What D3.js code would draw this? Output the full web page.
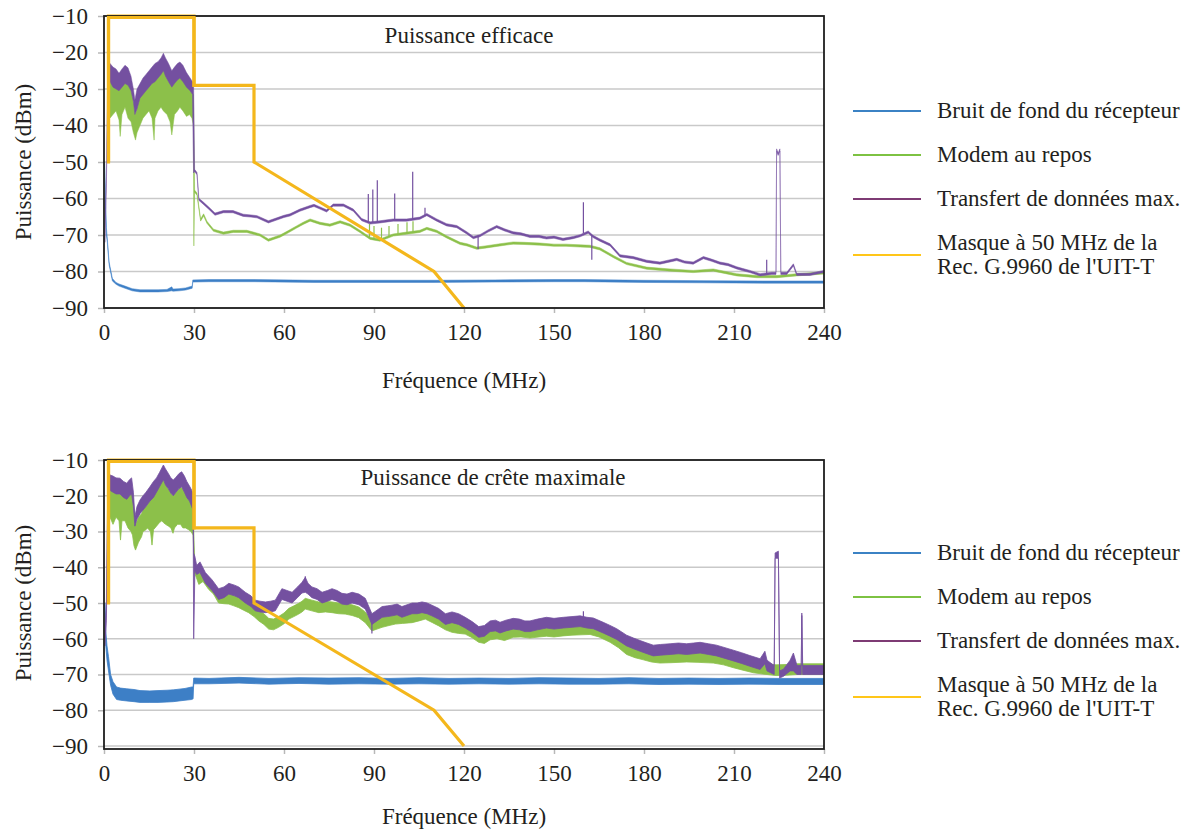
<!DOCTYPE html>
<html><head><meta charset="utf-8">
<script src="https://cdn.jsdelivr.net/npm/d3@7"></script>
<style>
body{margin:0;background:#fff;}
svg text, svg tspan{font-family:"Liberation Serif","Times New Roman",serif !important;font-weight:400 !important;fill:#231f20;}
</style>
</head><body>
<svg id="c" width="1198" height="830" font-family="Liberation Serif"></svg>
<script>
// ---------- DATA ----------
const xTicks = [0, 30, 60, 90, 120, 150, 180, 210, 240];
const yTicks = [-10, -20, -30, -40, -50, -60, -70, -80, -90];
const seriesNames = ["Bruit de fond du récepteur", "Modem au repos", "Transfert de données max.", ["Masque à 50 MHz de la", "Rec. G.9960 de l'UIT-T"]];
const panelTitles = ["Puissance efficace", "Puissance de crête maximale"];
const xTitle = "Fréquence (MHz)";
const yTitle = "Puissance (dBm)";

// ITU-T G.9960 50 MHz mask [MHz, dBm]
const maskData = [[1.5,-50],[1.5,-10],[30,-10],[30,-29],[50,-29],[50,-50],[110,-80],[120,-90]];

// RMS panel: [MHz, low dBm, high dBm]
const rmsNoise = [[0.2,-51,-50],[0.5,-63,-60],[0.8,-70,-68],[1.1,-72,-71],[1.7,-78.2,-77.4],[2.8,-82.6,-81.9],[4,-83.5,-83],[5,-84,-83.4],[7,-84.6,-84],[9.4,-85.3,-84.7],[12,-85.6,-85],[15,-85.6,-85],[18,-85.6,-85],[21,-85.5,-84.9],[22.6,-85.3,-84.2],[23,-85.4,-84.8],[25,-85.3,-84.7],[27.2,-85.1,-84.5],[28.9,-84.7,-84.1],[29.4,-84.6,-84],[29.6,-82.9,-82.3],[35,-82.8,-82.2],[50,-82.8,-82.2],[70,-83,-82.4],[90,-83,-82.4],[110,-83,-82.4],[130,-82.9,-82.3],[150,-82.8,-82.2],[160,-82.8,-82.2],[180,-83,-82.4],[200,-83.1,-82.5],[220,-83.2,-82.6],[240,-83.2,-82.6]];

const rmsIdle = [[1.3,-38,-27],[2,-38,-27.5],[3,-37,-29],[4,-36,-29.5],[5,-38.5,-30],[5.4,-43,-30],[6,-37,-29],[7,-35,-28],[8,-38,-28.5],[9,-39,-30],[9.8,-42,-33],[10.5,-44,-37],[11,-42,-35],[12,-40,-32],[13,-38,-31],[14,-37,-30],[15,-36,-29],[16,-38,-28],[16.7,-44,-28],[17,-38,-27.5],[18,-36,-26.5],[19,-35,-25.5],[19.8,-36,-24.5],[21,-37,-27],[22,-39,-28.5],[22.6,-42.6,-29],[23.5,-37,-28],[24.5,-36,-27],[25.3,-35,-26.5],[26.3,-36,-27.5],[27.5,-37.5,-29],[28.5,-37,-30],[29.3,-38,-31],[29.8,-40,-31.5],[29.95,-73,-40],[30.2,-58.3,-57.7],[31,-59.1,-58.5],[32.2,-66.2,-65.6],[33.2,-64.8,-64.2],[34.3,-66.8,-66.2],[36.5,-69,-68.4],[39.8,-69.8,-69.2],[43.1,-69.3,-68.7],[47.6,-69.3,-68.7],[52,-70.3,-69.7],[54.8,-71.7,-71.1],[58.7,-70.6,-70],[61,-69.6,-69],[64.2,-68.1,-67.5],[66.4,-67.1,-66.5],[68.7,-66.2,-65.6],[72,-67.1,-66.5],[75.3,-67.6,-67],[78.7,-66.7,-66.1],[82,-67.6,-67],[85.3,-69.3,-68.7],[88.7,-71.2,-70.6],[92,-71.7,-71.1],[96.4,-70.3,-69.7],[100.9,-69.8,-69.2],[105.3,-69.3,-68.7],[107.6,-68.5,-67.9],[110.9,-69.3,-68.7],[114.2,-70.8,-70.2],[118.7,-72.6,-72],[121,-73,-72.4],[124.2,-73.9,-73.3],[127,-73.6,-73],[132,-73,-72.4],[136.4,-72.5,-71.9],[140,-72.6,-72],[145.3,-72.8,-72.2],[150,-73.1,-72.5],[154,-73.1,-72.5],[158.7,-73.3,-72.7],[162,-73.4,-72.8],[165.3,-74.1,-73.5],[169.8,-76.2,-75.6],[174.2,-78.1,-77.5],[180.9,-79.4,-78.8],[188.7,-79.9,-79.3],[196.4,-80.3,-79.7],[203.1,-79.9,-79.3],[210.9,-81.2,-80.6],[217.6,-81.7,-81.1],[224.3,-81.7,-81.1],[230.9,-81.2,-80.6],[240,-80.7,-80.1]];

const rmsMax = [[0.3,-72,-70],[0.8,-56,-54],[1.3,-28,-22],[2,-28,-23],[3,-29.5,-24],[4,-30,-24.5],[5,-30.5,-25.7],[6,-29.5,-24.5],[7,-28.5,-23.5],[8,-29,-24.2],[9,-30.5,-26.5],[9.8,-33.5,-30],[10.3,-37,-33],[11,-35.5,-30],[12,-32.5,-28.5],[13,-31.5,-27],[14,-30.5,-26],[15,-29.5,-25],[16,-28.5,-24],[17,-28,-23],[18,-27,-22.5],[19,-26,-21.5],[19.8,-25,-20.2],[20.5,-26.5,-21.5],[21.5,-28,-23],[22.6,-29.5,-25],[23.5,-28.5,-24],[24.5,-27.5,-23],[25.3,-27,-22.6],[26.3,-28,-23.5],[27.5,-29.5,-25.5],[28.7,-30.5,-27],[29.5,-31.5,-28],[29.85,-53,-28],[30.2,-52.6,-52],[31,-53.5,-52.9],[31.6,-60.5,-59.9],[33,-61.5,-60.9],[35,-63,-62.4],[37,-64.6,-64],[39.8,-63.9,-63.3],[43,-63.9,-63.3],[46.4,-64.9,-64.3],[49,-65.1,-64.5],[51,-65.3,-64.7],[54.8,-66.7,-66.1],[57.6,-65.9,-65.3],[60,-65.2,-64.6],[62,-64.8,-64.2],[65.3,-63.5,-62.9],[68.7,-62.5,-61.9],[70,-62.2,-61.6],[72,-62.9,-62.3],[74.2,-63.7,-63.1],[76.4,-62.1,-61.5],[79.8,-62.1,-61.5],[83.1,-63.5,-62.9],[85.9,-66.1,-65.5],[88.7,-67,-66.4],[92,-66.7,-66.1],[96.4,-66.2,-65.6],[100.9,-66.2,-65.6],[105.3,-65.7,-65.1],[107.6,-64.7,-64.1],[110.9,-66.2,-65.6],[114.2,-67.5,-66.9],[117.6,-68,-67.4],[120.9,-69.7,-69.1],[123.1,-71,-70.4],[125.3,-70.5,-69.9],[128,-69.2,-68.6],[130.9,-68,-67.4],[133.5,-68.9,-68.3],[136.4,-69.7,-69.1],[139,-70,-69.4],[142,-70.7,-70.1],[145,-70.7,-70.1],[147.5,-71.1,-70.5],[150,-70.9,-70.3],[153,-71.5,-70.9],[156.4,-71,-70.4],[158.7,-70.5,-69.9],[161.4,-69.5,-68.9],[163,-70.7,-70.1],[165.3,-71.7,-71.1],[168.7,-73,-72.4],[172,-76,-75.4],[176.4,-76.5,-75.9],[180.9,-77.5,-76.9],[185.3,-78,-77.4],[188,-77.5,-76.9],[190.9,-77,-76.4],[193.5,-77.7,-77.1],[196.4,-78,-77.4],[199.8,-76.5,-75.9],[202.5,-77.2,-76.6],[205.3,-78,-77.4],[208,-78.4,-77.8],[210.9,-79.3,-78.7],[213,-79.8,-79.2],[215.3,-80.3,-79.7],[218.7,-81.2,-80.6],[222.6,-80.8,-80.2],[224,-80.8,-80.2],[224.2,-47,-46.4],[224.7,-48.2,-47.6],[225.3,-47,-46.4],[225.6,-80.8,-80.2],[227.6,-80.8,-80.2],[229.8,-78.5,-77.9],[230.9,-81.1,-80.5],[235.3,-81.1,-80.5],[240,-80.3,-79.7]];

// spikes [MHz, base dBm, tip dBm]
const rmsMaxSpikes = [[88.1,-66.5,-58.8],[89.6,-66.5,-57.5],[91.1,-66.3,-55],[96.9,-65.8,-58.6],[102.9,-65.8,-52.7],[107,-64.5,-62.5],[124.7,-70,-73.9],[159.8,-69.5,-61],[162.6,-70,-76.8],[220.9,-80.8,-76.8]];
const rmsIdleSpikes = [[88.5,-70.8,-67],[90,-71,-67.5],[92.5,-71.2,-68],[95,-70.5,-67.5],[98,-69.8,-67],[101,-69.5,-66.5],[103,-69.2,-66.2]];

// Peak panel: [MHz, low dBm, high dBm]
const peakNoise = [[0.3,-52,-50],[0.6,-62,-58],[1,-66,-62],[1.5,-69,-65],[2.2,-73,-70],[3,-75.5,-72],[4.2,-77,-73.5],[5.5,-77.2,-73.8],[7.6,-77.4,-74],[10,-77.6,-74.2],[12,-77.8,-74.5],[15.3,-77.8,-74.6],[18,-77.8,-74.5],[21,-77.7,-74.4],[23.1,-77.6,-74.3],[25,-77.4,-74.1],[27,-77.2,-73.9],[29.2,-77,-73.5],[29.7,-76.8,-73.5],[29.9,-72.6,-71],[35,-72.6,-71.1],[45,-72.4,-70.8],[55,-72.7,-71.1],[65,-72.5,-70.9],[75,-72.7,-71],[85,-72.6,-70.9],[95,-72.7,-71.1],[105,-72.6,-70.9],[115,-72.7,-71.1],[125,-72.6,-71],[135,-72.7,-71.1],[145,-72.6,-70.9],[155,-72.7,-71],[165,-72.7,-71.1],[175,-72.6,-70.9],[185,-72.8,-71.1],[195,-72.7,-71],[205,-72.8,-71.1],[215,-72.7,-71],[225,-72.8,-71.1],[235,-72.8,-71.1],[240,-72.8,-71.1]];

const peakIdle = [[1.3,-27,-18],[2,-26,-18.4],[3,-28,-18.8],[4,-26,-19],[5,-27,-19.5],[5.5,-32.4,-19.5],[6,-27,-20],[7,-27,-20],[8,-29,-20],[9,-30,-19.5],[9.5,-31,-19],[10,-34,-24],[10.5,-35.2,-28.2],[11.5,-33,-26],[12.5,-31.5,-25],[13,-30,-24],[14,-29.5,-23],[14.5,-29,-22.5],[15.5,-30,-21],[16,-33.8,-20.5],[16.5,-29.5,-20],[17.5,-28.5,-18.5],[18.5,-27.5,-17],[19.3,-27,-16],[19.8,-27.5,-15.5],[20.5,-28,-17],[21.5,-28.5,-18.2],[22.3,-29,-19.3],[23,-30.5,-20],[23.5,-29,-19.5],[24.5,-28,-18.5],[25.5,-28,-17.5],[26.3,-29,-18.2],[27.2,-29,-19.5],[28.2,-29.5,-21],[29,-30,-22],[29.7,-31,-23.5],[30.2,-41.5,-38.5],[31.6,-44.8,-41.8],[33,-44,-41],[34.9,-46.2,-43.2],[36.5,-47.5,-44.5],[38.2,-50,-47],[40,-50.2,-47.2],[41.6,-50.3,-47.3],[43.3,-50.8,-47.8],[44.9,-51.3,-48.3],[46.5,-52,-49],[48.2,-52.7,-49.7],[50,-53.8,-50.8],[51.6,-55,-52],[53.3,-56,-53],[54.9,-57.3,-54.3],[56.5,-57.5,-54.5],[58.2,-56.8,-53.8],[60,-55.8,-52.8],[61.6,-54.5,-51.5],[63.3,-53.8,-50.8],[64.9,-53.1,-50.1],[66,-52.5,-49.5],[67.1,-51.7,-48.7],[69.3,-52.2,-49.2],[71.6,-52.7,-49.7],[73.8,-52.5,-49.5],[76,-52.7,-49.7],[78.2,-53,-50],[80.4,-53.1,-50.1],[82.7,-53.5,-50.5],[84.9,-54.1,-51.1],[87.1,-55.5,-52.5],[89.3,-57.8,-54.8],[91,-57.3,-54.3],[92.7,-56.8,-53.8],[95,-56.3,-53.3],[97.1,-55.9,-52.9],[99.5,-55.7,-52.7],[102.7,-55.5,-52.5],[105,-55,-52],[107.1,-54.5,-51.5],[109.5,-55.5,-52.5],[111.6,-56.4,-53.4],[113.8,-57.5,-54.5],[116,-58.2,-55.2],[118.2,-58.5,-55.5],[120.4,-58.7,-55.7],[122.7,-59.7,-56.7],[124.9,-61,-58],[126.8,-61.3,-58.3],[128.7,-60.3,-57.3],[131,-60,-57],[133.5,-60.5,-57.5],[136.4,-59.6,-56.6],[139,-59.5,-56.5],[142,-59.8,-56.8],[145,-59.5,-56.5],[147.5,-59.3,-56.3],[150,-59.5,-56.5],[153,-59.2,-56.2],[156,-59,-56],[159,-58.9,-55.9],[162,-58.8,-55.8],[165,-59.5,-56.5],[168.7,-61,-58],[171.5,-62.5,-59.5],[174.2,-64.4,-61.4],[177,-65.3,-62.3],[179.8,-65.9,-62.9],[182.5,-66.5,-63.5],[185.3,-66.8,-63.8],[189,-66.7,-63.7],[194.2,-66.5,-63.5],[198,-66.6,-63.6],[203.1,-66.8,-63.8],[206.5,-67.3,-64.3],[209.8,-68.1,-65.1],[213,-68.8,-65.8],[216.4,-69.5,-66.5],[219,-69.8,-66.8],[221,-70,-67],[224,-70.3,-67.3],[227.6,-70.2,-67.2],[231,-70,-67],[235,-70,-67],[240,-70,-67]];

const peakMax = [[0.3,-62,-58],[0.8,-55,-50],[1.3,-18,-13.5],[2,-18.5,-14.2],[3,-19,-14.5],[4,-19.5,-15],[5.3,-19.5,-15.1],[6.5,-20.5,-16],[7.6,-21,-16.5],[8.5,-20,-15.5],[9.2,-19.5,-15],[9.8,-23,-19],[10.3,-28.5,-25.8],[11,-26.5,-23],[12,-25,-21.2],[13,-24,-20],[14,-23,-19],[15.3,-21.5,-17.5],[16.5,-20.5,-16],[17.5,-19,-15],[18.5,-17.5,-13.5],[19.8,-15.5,-11.4],[20.5,-17,-12.5],[21.4,-18,-13.7],[22.3,-19.3,-15],[23.1,-20,-15.6],[24,-19,-14.8],[25,-18,-13.8],[25.9,-17.5,-13.3],[26.8,-19,-14.5],[27.6,-20.5,-16],[28.5,-21.5,-17.3],[29.2,-23,-18.4],[29.7,-24,-19.5],[29.9,-60,-36],[30.3,-41,-37],[30.9,-42,-39.5],[32,-41.5,-38.5],[33.8,-44.5,-41.5],[36,-46.5,-43.5],[38.2,-49,-46],[40,-48.5,-45.5],[41.6,-47.5,-44.5],[43.5,-48,-45],[44.9,-48.5,-45.5],[47.1,-50,-47],[49,-51,-48],[50.4,-52.2,-49.2],[52,-52.5,-49.5],[53.8,-52.7,-49.7],[55.5,-52.5,-49.5],[57.1,-52.2,-49.2],[59.3,-49,-46],[61,-49.5,-46.5],[62.7,-50,-47],[64.5,-48.5,-45.5],[66,-47.2,-44.2],[67.1,-47,-42.8],[68,-47.5,-44.5],[69.3,-48.5,-45.5],[71,-49,-46],[72.7,-50,-47],[74.5,-49.5,-46.5],[76,-49,-46],[77.7,-49.5,-46.5],[79.3,-50.3,-47.3],[81,-50.5,-47.5],[82.7,-50,-47],[85,-50.5,-47.5],[87.1,-51.7,-48.7],[89.3,-56,-53],[91,-55,-52],[92.7,-54,-51],[94.5,-53.8,-50.8],[96,-53.6,-50.6],[97.7,-53.3,-50.3],[99.3,-54,-51],[101,-53.5,-50.5],[102.7,-53,-50],[104.4,-53,-50],[106,-52.7,-49.7],[107.7,-53,-50],[109.3,-53.6,-50.6],[111.5,-54.5,-51.5],[113.8,-56,-53],[116,-55.5,-52.5],[118.2,-56,-53],[120.4,-57,-54],[122.7,-58.2,-55.2],[124.9,-59.6,-56.6],[126.8,-59.3,-56.3],[128.7,-58,-55],[130.5,-57.8,-54.8],[132,-58.4,-55.4],[134,-57.8,-54.8],[136.4,-57.3,-54.3],[138.5,-57.5,-54.5],[140.3,-58,-55],[142,-58,-55],[144.5,-57.5,-54.5],[147.5,-57,-54],[150,-57.3,-54.3],[153.1,-57,-54],[156,-56.8,-53.8],[158.7,-56.6,-53.6],[161,-57,-54],[163.1,-57.2,-54.2],[166.4,-58.4,-55.4],[168.5,-59.2,-56.2],[170.9,-60.2,-57.2],[174.2,-62,-59],[176.5,-62.8,-59.8],[178.7,-63.5,-60.5],[181,-64.2,-61.2],[183.1,-64.8,-61.8],[185.5,-64.6,-61.6],[188.7,-64.4,-61.4],[191.5,-64.2,-61.2],[194.2,-64.4,-61.4],[196.5,-64.2,-61.2],[198.7,-64,-61],[201.5,-64.4,-61.4],[204.2,-64.8,-61.8],[207,-65.5,-62.5],[209.8,-66.2,-63.2],[212.5,-66.9,-63.9],[215.3,-67.7,-64.7],[218.7,-68.6,-65.6],[220.3,-67,-63.5],[221,-69,-66],[223.4,-70,-67.5],[223.7,-37.5,-36],[224.8,-37.5,-35.5],[225.2,-71,-69],[226.5,-70.5,-68.5],[228.7,-69,-66],[229.8,-69,-64],[231,-70,-67.5],[232.4,-70,-67.5],[232.6,-53.5,-52.8],[232.9,-70,-67.5],[234.2,-70,-67.5],[237,-70,-67.5],[240,-70,-67.5]];
const peakMaxSpikes = [[67.1,-45,-42.5],[159.8,-54,-52.3],[89.3,-53,-58.5]];
const peakIdleSpikes = [];

// ---------- DRAW ----------
const svg = d3.select("#c");
const colors = {noise:"#3d7fc6", idle:"#8cc04a", max:"#7450a0", mask:"#f4b71c"};
const legendColors = ["#3b82c4", "#7dc242", "#7e3b74", "#ffc619"];
const FS = 23;
const FONT = "Liberation Serif";

const panels = [
  {top:16, bottom:308, frameBottom:308, title:panelTitles[0], titleX:469, titleY:43, xTitleY:388,
   noise:rmsNoise, idle:rmsIdle, max:rmsMax, maxSpikes:rmsMaxSpikes, idleSpikes:rmsIdleSpikes, legendY:111, sw:0.5},
  {top:460, bottom:746, frameBottom:749, title:panelTitles[1], titleX:493, titleY:485, xTitleY:824,
   noise:peakNoise, idle:peakIdle, max:peakMax, maxSpikes:peakMaxSpikes, idleSpikes:peakIdleSpikes, legendY:553, sw:0.8}
];

const textLayer = [];

panels.forEach((p, pi) => {
  const g = svg.append("g");
  const x = d3.scaleLinear().domain([0, 240]).range([104, 824]);
  const y = d3.scaleLinear().domain([-90, -10]).range([p.bottom, p.top]);
  const clipId = "clip" + pi;
  svg.append("clipPath").attr("id", clipId).append("rect")
    .attr("x", 104).attr("y", p.top - 4).attr("width", 720).attr("height", p.frameBottom - p.top + 4);

  // gridlines
  g.append("g").selectAll("line").data(yTicks).join("line")
    .attr("x1", 104).attr("x2", 824).attr("y1", d => y(d)).attr("y2", d => y(d))
    .attr("stroke", "#c9c9c9").attr("stroke-width", 1.6);

  // axes
  const ya = g.append("g").attr("transform", "translate(104,0)")
    .call(d3.axisLeft(y).tickValues(yTicks).tickSize(6).tickPadding(10));
  const xa = g.append("g").attr("transform", `translate(0,${p.frameBottom})`)
    .call(d3.axisBottom(x).tickValues(xTicks).tickSize(5).tickPadding(11));
  [ya, xa].forEach(a => {
    a.attr("font-family", FONT).attr("font-size", FS);
    a.select(".domain").remove();
    a.selectAll(".tick line").attr("stroke", "#b8b8b8").attr("stroke-width", 1.5);
    a.selectAll(".tick text").attr("font-family", FONT).attr("font-size", FS).attr("fill", "#231f20");
  });

  const area = d3.area().x(d => x(d[0])).y0(d => y(d[1])).y1(d => y(d[2]));
  const plot = g.append("g").attr("clip-path", `url(#${clipId})`);

  function band(data, col) {
    plot.append("path").datum(data).attr("d", area)
      .attr("fill", col).attr("stroke", col).attr("stroke-width", p.sw).attr("stroke-linejoin", "round");
  }
  function spikes(data, col) {
    plot.append("g").selectAll("line").data(data).join("line")
      .attr("x1", d => x(d[0])).attr("x2", d => x(d[0]))
      .attr("y1", d => y(d[1])).attr("y2", d => y(d[2]))
      .attr("stroke", col).attr("stroke-width", 1.2);
  }
  band(p.noise, colors.noise);
  band(p.idle, colors.idle);
  spikes(p.idleSpikes, colors.idle);
  band(p.max, colors.max);
  spikes(p.maxSpikes, colors.max);

  // mask
  g.append("path").datum(maskData)
    .attr("d", d3.line().x(d => x(d[0])).y(d => y(d[1])))
    .attr("fill", "none").attr("stroke", colors.mask).attr("stroke-width", 3.2).attr("stroke-linejoin", "miter");

  // frame
  g.append("rect").attr("x", 104).attr("y", p.top).attr("width", 720).attr("height", p.frameBottom - p.top)
    .attr("fill", "none").attr("stroke", "#1e1e1e").attr("stroke-width", 1.8);
  g.append("path").datum(maskData.slice(0, 4))
    .attr("d", d3.line().x(d => x(d[0])).y(d => y(d[1]) + 1.5))
    .attr("fill", "none").attr("stroke", colors.mask).attr("stroke-width", 3.2);

  // titles
  const tg = svg.append("g").attr("font-family", FONT).attr("font-size", FS);
  tg.append("text").attr("x", p.titleX).attr("y", p.titleY).attr("text-anchor", "middle").text(p.title);
  tg.append("text").attr("x", 464).attr("y", p.xTitleY).attr("text-anchor", "middle").text(xTitle);
  tg.append("text").attr("transform", `translate(31,${(p.top + p.bottom) / 2}) rotate(-90)`)
    .attr("text-anchor", "middle").text(yTitle);

  // legend
  seriesNames.forEach((name, i) => {
    const ly = p.legendY + i * 44;
    const lineY = i === 3 ? ly + 12 : ly;
    tg.append("line").attr("x1", 853).attr("x2", 921).attr("y1", lineY).attr("y2", lineY)
      .attr("stroke", legendColors[i]).attr("stroke-width", 2);
    const lines = Array.isArray(name) ? name : [name];
    lines.forEach((s, k) => {
      tg.append("text").attr("x", 937).attr("y", ly + 7 + k * 24).text(s);
    });
  });
});

svg.selectAll("text").attr("font-family", FONT).attr("font-size", FS).style("font-family", FONT);
</script>
</body></html>
